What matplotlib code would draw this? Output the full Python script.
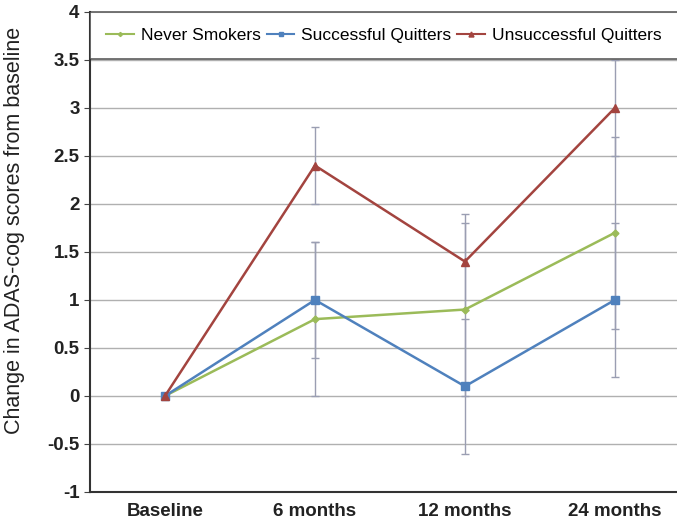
import matplotlib
matplotlib.use("Agg")
import matplotlib.pyplot as plt
from matplotlib.lines import Line2D
from matplotlib.ticker import FuncFormatter

plt.rcParams["font.family"] = ["Liberation Sans", "DejaVu Sans"]

timepoints = ["Baseline", "6 months", "12 months", "24 months"]

never_smokers = [0, 0.8, 0.9, 1.7]
never_smokers_err = [0, 0.8, 0.9, 1.0]

successful_quitters = [0, 1.0, 0.1, 1.0]
successful_quitters_err = [0, 0.6, 0.7, 0.8]

unsuccessful_quitters = [0, 2.4, 1.4, 3.0]
unsuccessful_quitters_err = [0, 0.4, 0.5, 0.5]

series = [
    ("Never Smokers", never_smokers, never_smokers_err, "#9BBB59", "D", 3.5),
    ("Successful Quitters", successful_quitters, successful_quitters_err, "#4F81BD", "s", 6),
    ("Unsuccessful Quitters", unsuccessful_quitters, unsuccessful_quitters_err, "#A3443F", "^", 6),
]

fig = plt.figure(figsize=(6.77, 5.2), dpi=100)
ax = fig.add_axes([0.133, 0.054, 0.886, 0.923])

x = list(range(len(timepoints)))
handles = []
for name, vals, errs, col, mk, ms in series:
    ax.errorbar(x, vals, yerr=errs, color=col, marker=mk, markersize=ms,
                linewidth=1.8, ecolor="#9a9eb2", elinewidth=1, capsize=3,
                capthick=1, zorder=3)
    handles.append(Line2D([], [], color=col, marker=mk, markersize=ms * 0.6,
                          linewidth=1.5, label=name))

ax.set_xlim(-0.5, 3.5)
ax.set_ylim(-1, 4)
ax.set_yticks([i * 0.5 for i in range(-2, 9)])
ax.yaxis.set_major_formatter(FuncFormatter(lambda v, p: ("%g" % v)))
ax.set_xticks(x)
ax.set_xticklabels(timepoints, fontsize=13.5, fontweight="bold", color="#222222")
ax.tick_params(axis="x", length=0, pad=8)
ax.tick_params(axis="y", labelsize=13.5, length=4, direction="out", colors="#444444",
               labelcolor="#222222")
for lab in ax.get_yticklabels():
    lab.set_fontweight("bold")

ax.grid(axis="y", color="#b0b0b0", linewidth=1)
ax.set_axisbelow(True)
ax.spines["left"].set_color("#333333")
ax.spines["left"].set_linewidth(1.5)
ax.spines["bottom"].set_color("#333333")
ax.spines["bottom"].set_linewidth(1.5)
ax.spines["top"].set_visible(False)
ax.spines["right"].set_visible(False)

ax.set_ylabel("Change in ADAS-cog scores from baseline", fontsize=15.5, color="#222222")
ax.yaxis.set_label_coords(-0.108, 0.544)

leg = ax.legend(handles=handles, loc="upper left", bbox_to_anchor=(0, 1, 0.98, 0),
                mode="expand", ncol=3, fontsize=12.5, frameon=True, fancybox=False,
                borderaxespad=0, handlelength=1.6, handletextpad=0.4, borderpad=0.93)
leg.get_frame().set_edgecolor("#333333")
leg.get_frame().set_linewidth(1.2)

fig.savefig("out.png", dpi=100)
